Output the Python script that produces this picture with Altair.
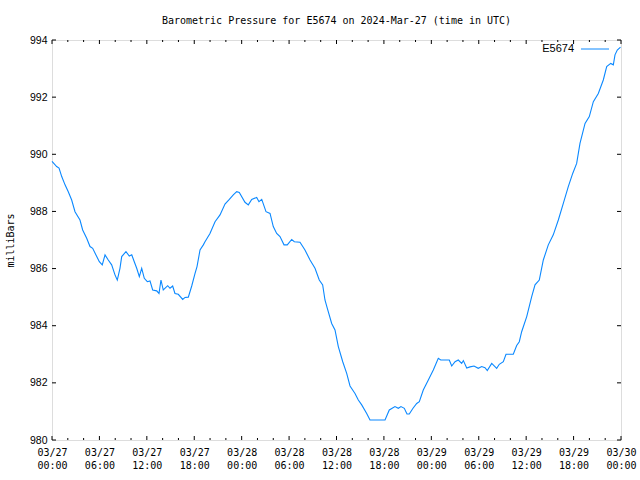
import altair as alt
import pandas as pd

# hours after 2024-03-27 00:00 UTC
hours = [0.00, 0.59, 0.89, 1.23, 1.65, 2.06, 2.49, 2.91, 3.54, 3.88, 4.39, 4.81, 5.15, 5.66, 5.99,
         6.36, 6.71, 7.12, 7.55, 7.97, 8.26, 8.60, 8.82, 9.36, 9.78, 10.09, 10.41, 10.72, 11.05, 11.35,
         11.68, 12.06, 12.40, 12.74, 13.25, 13.54, 13.79, 14.08, 14.64, 14.93, 15.27, 15.56, 15.98,
         16.54, 16.83, 17.25, 17.68, 18.10, 18.35, 18.73, 19.15, 19.36, 19.99, 20.63, 21.26, 21.89,
         22.44, 22.94, 23.37, 23.70, 24.42, 24.84, 25.27, 25.90, 26.19, 26.54, 27.08, 27.59, 28.00,
         28.43, 28.85, 29.36, 29.77, 30.33, 30.66, 31.38, 32.01, 32.65, 33.28, 33.82, 34.25, 34.54,
         34.84, 35.39, 35.81, 36.23, 36.79, 37.29, 37.71, 38.34, 38.76, 39.19, 39.82, 40.24, 42.14,
         42.68, 43.40, 43.82, 44.16, 44.58, 44.92, 45.21, 45.68, 46.15, 46.48, 46.98, 47.62, 48.25,
         48.88, 49.19, 50.27, 50.58, 51.00, 51.41, 51.84, 52.05, 52.48, 52.89, 53.40, 53.94, 54.37,
         54.79, 55.08, 55.64, 56.27, 56.60, 57.11, 57.45, 58.37, 58.80, 59.13, 59.43, 60.07, 60.70,
         61.12, 61.66, 62.17, 62.80, 63.43, 64.07, 64.70, 65.33, 65.89, 66.39, 66.81, 67.45, 67.99,
         68.50, 69.13, 69.76, 70.19, 70.70, 71.03, 71.24, 71.53, 71.94]
pressure = [989.75, 989.57, 989.52, 989.22, 988.93, 988.69, 988.40, 987.99, 987.70, 987.35, 987.06,
            986.77, 986.71, 986.42, 986.24, 986.13, 986.48, 986.30, 986.13, 985.78, 985.60, 986.01,
            986.42, 986.59, 986.44, 986.48, 986.24, 986.01, 985.72, 986.01, 985.66, 985.54, 985.57,
            985.25, 985.22, 985.13, 985.60, 985.25, 985.40, 985.31, 985.39, 985.13, 985.10, 984.92,
            984.99, 985.00, 985.39, 985.83, 986.07, 986.65, 986.83, 986.94, 987.23, 987.64, 987.88,
            988.26, 988.42, 988.58, 988.69, 988.66, 988.32, 988.23, 988.42, 988.49, 988.34, 988.42,
            987.99, 987.93, 987.47, 987.23, 987.12, 986.83, 986.83, 987.02, 986.94, 986.92, 986.65,
            986.30, 986.01, 985.60, 985.43, 984.90, 984.61, 984.08, 983.85, 983.27, 982.74, 982.33,
            981.89, 981.63, 981.40, 981.23, 980.93, 980.70, 980.70, 981.05, 981.17, 981.11, 981.17,
            981.11, 980.91, 980.91, 981.11, 981.28, 981.34, 981.75, 982.10, 982.45, 982.86, 982.80,
            982.80, 982.59, 982.74, 982.80, 982.68, 982.78, 982.52, 982.56, 982.59, 982.51, 982.57,
            982.53, 982.43, 982.68, 982.51, 982.65, 982.74, 983.00, 983.00, 983.31, 983.44, 983.79,
            984.32, 985.02, 985.43, 985.60, 986.30, 986.83, 987.18, 987.70, 988.28, 988.87, 989.33,
            989.68, 990.38, 991.08, 991.32, 991.84, 992.13, 992.60, 993.07, 993.18, 993.13, 993.48,
            993.65, 993.75]

major_x_hours = [0, 6, 12, 18, 24, 30, 36, 42, 48, 54, 60, 66, 72]
minor_x_hours = [2, 4, 8, 10, 14, 16, 20, 22, 26, 28, 32, 34, 38, 40, 44, 46, 50, 52, 56, 58, 62, 64, 68, 70]
y_tick_values = [980, 982, 984, 986, 988, 990, 992, 994]

station = "E5674"
title_text = "Barometric Pressure for E5674 on 2024-Mar-27 (time in UTC)"

W, H = 569, 400
start = pd.Timestamp("2024-03-27 00:00", tz="UTC")
MONO = "DejaVu Sans Mono"
SANS = "Liberation Sans"
BLUE = "#0a88ff"

df = pd.DataFrame({"t": [start + pd.Timedelta(hours=h) for h in hours], "p": pressure})
maj = pd.DataFrame({"t": [start + pd.Timedelta(hours=h) for h in major_x_hours]})
mino = pd.DataFrame({"t": [start + pd.Timedelta(hours=h) for h in minor_x_hours]})
yt = pd.DataFrame({"p": y_tick_values})

xscale = alt.Scale(type="utc", domain=[alt.DateTime(year=2024, month=3, date=27, utc=True),
                                       alt.DateTime(year=2024, month=3, date=30, utc=True)])
yscale = alt.Scale(domain=[980, 994], nice=False, zero=False)

x_axis = alt.Axis(
    title=None, grid=False, ticks=False, tickSize=0, domain=False,
    values=[alt.DateTime(year=2024, month=3, date=27 + h // 24, hours=h % 24, utc=True) for h in major_x_hours],
    labelExpr="[utcFormat(datum.value, '%m/%d'), utcFormat(datum.value, '%H:%M')]",
    labelFont=MONO, labelFontSize=10, labelColor="black", labelPadding=7,
    labelLineHeight=13, labelOverlap=False, labelFlush=False, labelBaseline="top",
)
y_axis = alt.Axis(
    title="milliBars", grid=False, ticks=False, tickSize=0, domain=False, values=y_tick_values,
    labelFont=SANS, labelFontSize=10.5, labelColor="black", labelPadding=5,
    titleFont=MONO, titleFontSize=10, titleFontWeight="normal", titleColor="black",
    titleAngle=-90, titleX=-42, titleY=200, titleAlign="center", titleBaseline="middle",
)

line = alt.Chart(df).mark_line(color=BLUE, strokeWidth=1.1, interpolate="linear").encode(
    x=alt.X("t:T", scale=xscale, axis=x_axis),
    y=alt.Y("p:Q", scale=yscale, axis=y_axis),
)

def xticks(data, size, top):
    if top:
        return alt.Chart(data).mark_rule(color="black", strokeWidth=1).encode(
            x=alt.X("t:T", scale=xscale), y=alt.value(0), y2=alt.value(size))
    return alt.Chart(data).mark_rule(color="black", strokeWidth=1).encode(
        x=alt.X("t:T", scale=xscale), y=alt.value(H), y2=alt.value(H - size))

def yticks(left):
    if left:
        return alt.Chart(yt).mark_rule(color="black", strokeWidth=1).encode(
            y=alt.Y("p:Q", scale=yscale), x=alt.value(0), x2=alt.value(4))
    return alt.Chart(yt).mark_rule(color="black", strokeWidth=1).encode(
        y=alt.Y("p:Q", scale=yscale), x=alt.value(W), x2=alt.value(W - 4))

legend_df = pd.DataFrame({"label": [station]})
legend_text = alt.Chart(legend_df).mark_text(
    font=SANS, fontSize=11, align="right", baseline="middle", color="black"
).encode(text="label:N", x=alt.value(522), y=alt.value(9))
legend_line = alt.Chart(legend_df).mark_rule(color=BLUE, strokeWidth=1).encode(
    x=alt.value(529), x2=alt.value(557), y=alt.value(9))

chart = alt.layer(
    line,
    xticks(maj, 4, False), xticks(mino, 2, False),
    xticks(maj, 4, True), xticks(mino, 2, True),
    yticks(True), yticks(False),
    legend_text, legend_line,
).properties(
    width=W, height=H,
    title=alt.TitleParams(title_text, font=MONO, fontSize=10, fontWeight="normal",
                          color="black", anchor="middle", offset=9),
    autosize=alt.AutoSizeParams(type="none"),
    padding={"left": 52, "top": 40, "right": 19, "bottom": 40},
).configure_view(stroke="black", strokeWidth=1).configure(background="white")

chart.save("out.html", embed_options={"renderer": "svg", "actions": False})
